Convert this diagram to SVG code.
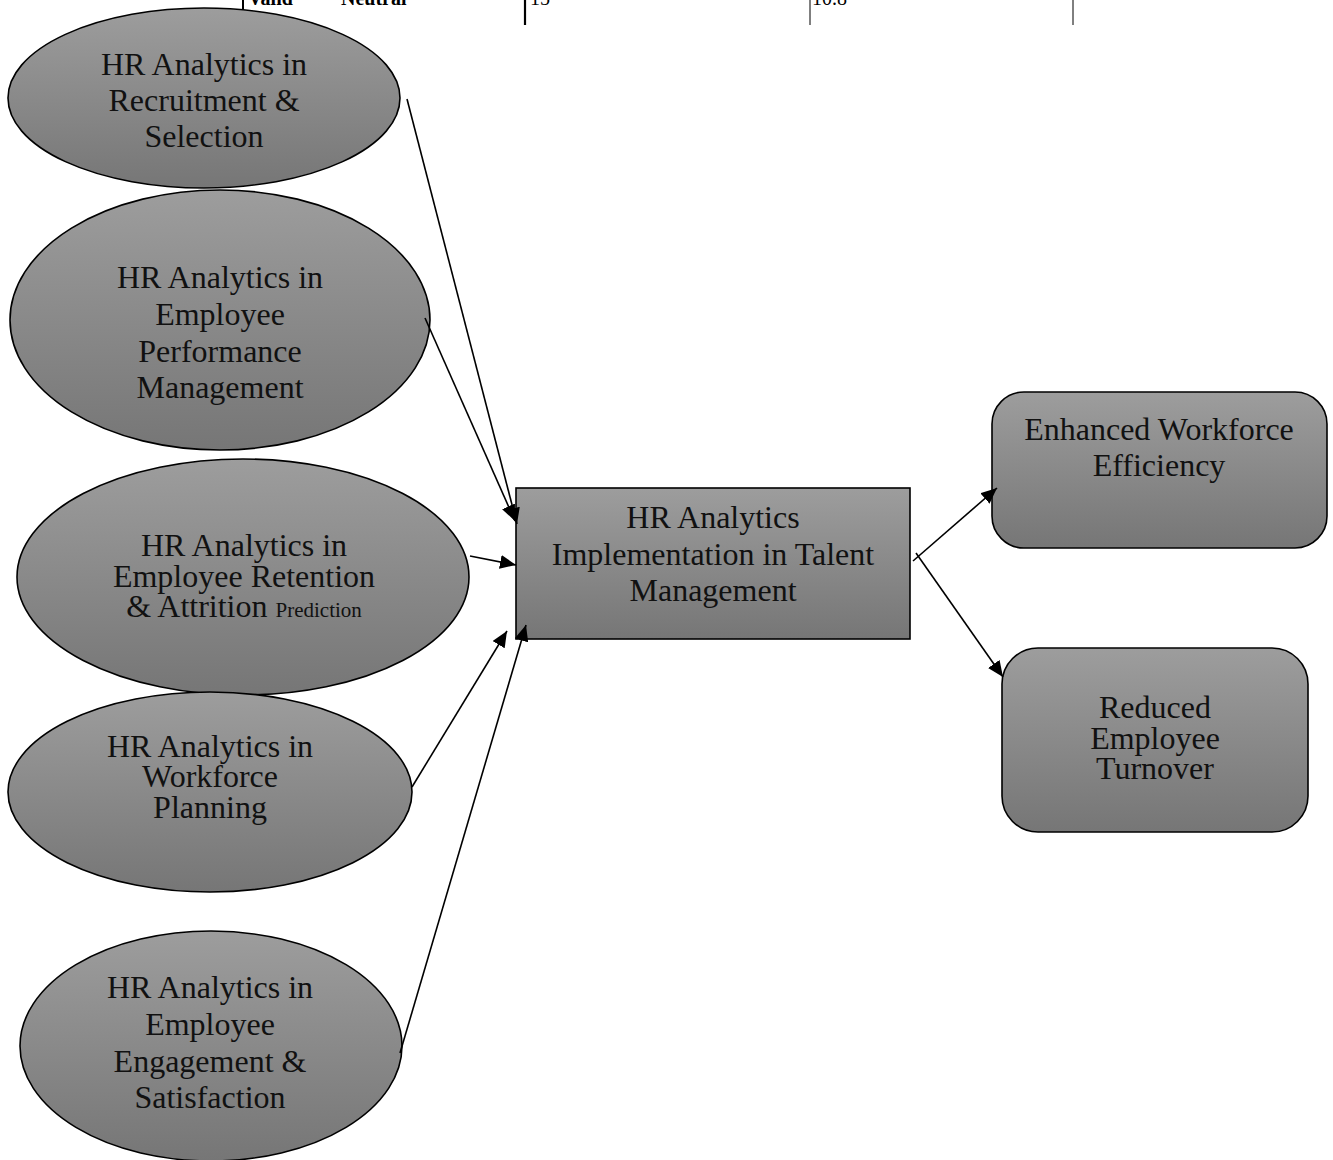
<svg xmlns="http://www.w3.org/2000/svg" width="1333" height="1160" viewBox="0 0 1333 1160">
<style>
.t{font-family:"Liberation Serif","Times New Roman",serif;font-size:32px;fill:#111;text-anchor:middle}
.sm{font-size:21px}
.tb{font-family:"Liberation Serif","Times New Roman",serif;font-size:20px;fill:#000}
.b{font-weight:bold}
.sh{fill:url(#g);stroke:#000;stroke-width:1.6}
.c{stroke:#000;stroke-width:1.6;fill:none;marker-end:url(#ah)}
</style>
<defs>
<linearGradient id="g" x1="0" y1="0" x2="0" y2="1">
<stop offset="0" stop-color="#9d9d9d"/>
<stop offset="1" stop-color="#767676"/>
</linearGradient>
<marker id="ah" markerUnits="userSpaceOnUse" markerWidth="18" markerHeight="14" refX="16" refY="7" orient="auto">
<path d="M0,0 L16,7 L0,14 Z" fill="#000"/>
</marker>
</defs>
<rect width="1333" height="1160" fill="#fff"/>
<g id="table-fragment">
<line x1="243" y1="0" x2="243" y2="10" stroke="#000" stroke-width="2"/>
<line x1="525" y1="0" x2="525" y2="25" stroke="#000" stroke-width="2.2"/>
<line x1="810" y1="0" x2="810" y2="25" stroke="#000" stroke-width="1"/>
<line x1="1073" y1="0" x2="1073" y2="25" stroke="#000" stroke-width="1"/>
<text class="tb b" x="248" y="5">Valid</text>
<text class="tb b" x="341" y="5">Neutral</text>
<text class="tb" x="530" y="5">15</text>
<text class="tb" x="812" y="5">10.8</text>
</g>
<g id="n1">
<ellipse class="sh" cx="204" cy="98" rx="196" ry="90"/>
<text class="t"><tspan x="204" y="75">HR Analytics in</tspan><tspan x="204" y="111">Recruitment &amp;</tspan><tspan x="204" y="147">Selection</tspan></text>
</g>
<g id="n2">
<ellipse class="sh" cx="220" cy="320" rx="210" ry="130"/>
<text class="t"><tspan x="220" y="288">HR Analytics in</tspan><tspan x="220" y="325">Employee</tspan><tspan x="220" y="362">Performance</tspan><tspan x="220" y="398">Management</tspan></text>
</g>
<g id="n3">
<ellipse class="sh" cx="243" cy="577" rx="226" ry="118"/>
<text class="t"><tspan x="244" y="556">HR Analytics in</tspan><tspan x="244" y="587">Employee Retention</tspan><tspan x="244" y="617">&amp; Attrition <tspan class="sm">Prediction</tspan></tspan></text>
</g>
<g id="n4">
<ellipse class="sh" cx="210" cy="792" rx="202" ry="100"/>
<text class="t"><tspan x="210" y="757">HR Analytics in</tspan><tspan x="210" y="787">Workforce</tspan><tspan x="210" y="818">Planning</tspan></text>
</g>
<g id="n5">
<ellipse class="sh" cx="211" cy="1046" rx="191" ry="115"/>
<text class="t"><tspan x="210" y="998">HR Analytics in</tspan><tspan x="210" y="1035">Employee</tspan><tspan x="210" y="1072">Engagement &amp;</tspan><tspan x="210" y="1108">Satisfaction</tspan></text>
</g>
<g id="center">
<rect class="sh" x="516" y="488" width="394" height="151" stroke-width="2"/>
<text class="t"><tspan x="713" y="528">HR Analytics</tspan><tspan x="713" y="565">Implementation in Talent</tspan><tspan x="713" y="601">Management</tspan></text>
</g>
<g id="out1">
<rect class="sh" x="992" y="392" width="335" height="156" rx="32"/>
<text class="t"><tspan x="1159" y="440">Enhanced Workforce</tspan><tspan x="1159" y="476">Efficiency</tspan></text>
</g>
<g id="out2">
<rect class="sh" x="1002" y="648" width="306" height="184" rx="36"/>
<text class="t"><tspan x="1155" y="718">Reduced</tspan><tspan x="1155" y="749">Employee</tspan><tspan x="1155" y="779">Turnover</tspan></text>
</g>
<g id="connectors">
<line class="c" x1="407" y1="99" x2="517" y2="524"/>
<line class="c" x1="425" y1="318" x2="515" y2="521"/>
<line class="c" x1="470" y1="556" x2="516" y2="565"/>
<line class="c" x1="412" y1="787" x2="507" y2="631"/>
<line class="c" x1="400" y1="1053" x2="526" y2="625"/>
<line class="c" x1="913" y1="561" x2="997" y2="488"/>
<line class="c" x1="916" y1="553" x2="1003" y2="677"/>
</g>
</svg>
